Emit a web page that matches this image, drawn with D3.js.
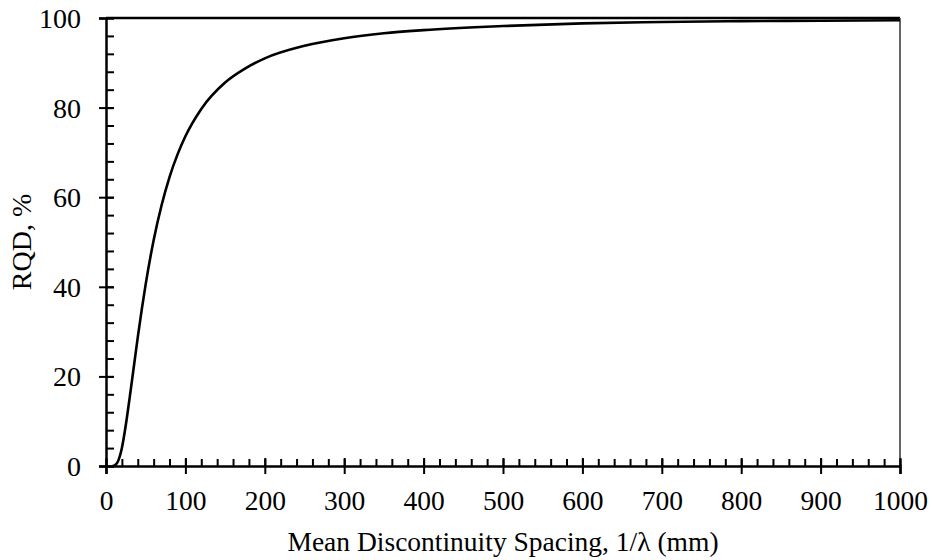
<!DOCTYPE html>
<html>
<head>
<meta charset="utf-8">
<script src="https://cdn.jsdelivr.net/npm/d3@7"></script>
</head>
<body style="margin:0">
<svg id="chart" width="934" height="560"></svg>
<script>
// spacing (mm) and RQD (%)
var spacing = [8, 10, 15, 20, 25, 30, 35, 40, 45, 50, 60, 70, 80, 90, 100, 120, 150, 175, 200, 250, 300, 350, 400, 500, 600, 700, 800, 900, 1000];
var rqd     = [0, 0.05, 1.0, 4.0, 9.2, 15.5, 22.1, 28.7, 34.9, 40.6, 50.4, 58.2, 64.5, 69.5, 73.6, 79.7, 85.6, 88.7, 91.0, 93.8, 95.5, 96.6, 97.3, 98.2, 98.8, 99.1, 99.3, 99.4, 99.5];

var xMajor = [0, 100, 200, 300, 400, 500, 600, 700, 800, 900, 1000];
var yMajor = [0, 20, 40, 60, 80, 100];
var xMinor = d3.range(0, 1001, 20);
var yMinor = d3.range(0, 101, 4);

var xTitle = "Mean Discontinuity Spacing, 1/\u03bb (mm)";
var yTitle = "RQD, %";

var svg = d3.select("#chart");
var margin = {left: 106, right: 34, top: 18, bottom: 94};
var width  = +svg.attr("width")  - margin.left - margin.right,
    height = +svg.attr("height") - margin.top  - margin.bottom;

var x = d3.scaleLinear().domain([0, 1000]).range([0, width]);
var y = d3.scaleLinear().domain([0, 100]).range([height, 0]);

var g = svg.append("g")
    .attr("transform", "translate(" + margin.left + "," + margin.top + ")");

// serif text, sized like the reference
function serif(sel, size) {
    sel.attr("font-family", "Liberation Serif")
       .style("font-family", "'Liberation Serif'")
       .style("font-size", (size || 28) + "px")
       .attr("fill", "#000");
}

// frame: top and right
g.append("line").attr("x1", 0).attr("x2", width).attr("y1", 0).attr("y2", 0)
    .attr("stroke", "#000").attr("stroke-width", 2.5);
g.append("line").attr("x1", width).attr("x2", width).attr("y1", 0).attr("y2", height)
    .attr("stroke", "#333").attr("stroke-width", 1.5);

// minor ticks (inside)
g.append("g")
    .attr("transform", "translate(0," + height + ")")
    .call(d3.axisBottom(x).tickValues(xMinor).tickSize(-7).tickFormat(""))
    .call(function(a) { a.select(".domain").remove(); a.selectAll("line").attr("stroke-width", 2); });
g.append("g")
    .call(d3.axisLeft(y).tickValues(yMinor).tickSize(-8).tickFormat(""))
    .call(function(a) { a.select(".domain").remove(); a.selectAll("line").attr("stroke-width", 2); });

// major ticks cross the axis
var xAx = g.append("g")
    .attr("transform", "translate(0," + height + ")")
    .call(d3.axisBottom(x).tickValues(xMajor).tickFormat(d3.format("d")).tickSizeOuter(0).tickSize(8));
xAx.selectAll(".tick line").attr("y1", -8).attr("stroke-width", 2);
xAx.selectAll("text").attr("y", 43.5).attr("dy", null).call(serif, 27.5);
xAx.select(".domain").attr("stroke-width", 2.5);

var yAx = g.append("g")
    .call(d3.axisLeft(y).tickValues(yMajor).tickSizeOuter(0).tickSize(7));
yAx.selectAll(".tick line").attr("x1", 8).attr("stroke-width", 2);
yAx.selectAll("text").attr("x", -25).attr("dy", "0.34em").call(serif, 28);
yAx.select(".domain").attr("stroke-width", 2.5);

// curve
var pts = spacing.map(function(s, i) { return [s, rqd[i]]; });
g.append("path")
    .datum(pts)
    .attr("fill", "none")
    .attr("stroke", "#000")
    .attr("stroke-width", 2.6)
    .attr("d", d3.line()
        .curve(d3.curveMonotoneX)
        .x(function(d) { return x(d[0]); })
        .y(function(d) { return y(d[1]); }));

// axis titles
svg.append("text")
    .attr("x", margin.left + width / 2)
    .attr("y", 551)
    .attr("text-anchor", "middle")
    .call(serif, 27.5)
    .text(xTitle);

svg.append("text")
    .attr("transform", "translate(31," + (margin.top + height / 2) + ") rotate(-90)")
    .attr("text-anchor", "middle")
    .call(serif, 28)
    .text(yTitle);
</script>
</body>
</html>
